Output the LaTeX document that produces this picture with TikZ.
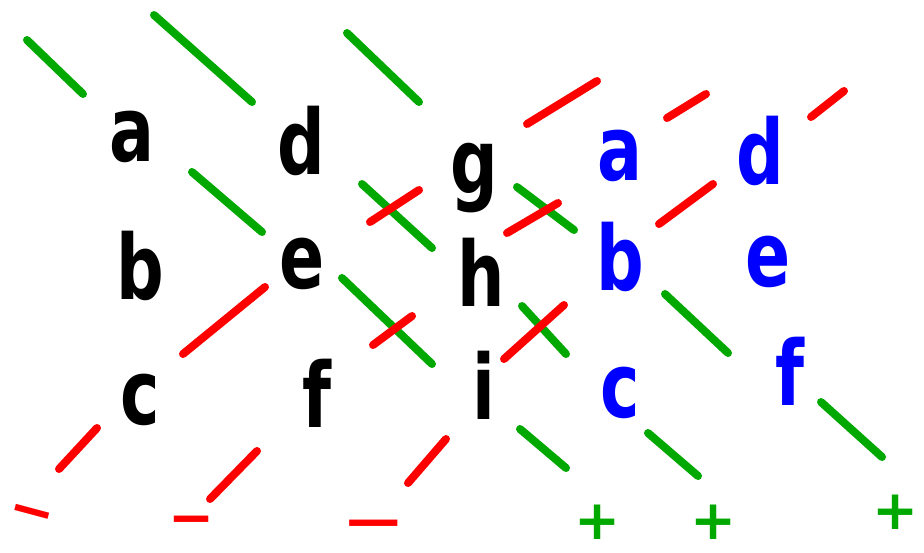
\documentclass[tikz,border=0pt]{standalone}
\usepackage{fontspec}
\setmainfont{DejaVu Sans}
\usepackage{graphicx}
\definecolor{pgreen}{RGB}{0,168,0}
\definecolor{pred}{RGB}{255,0,0}
\definecolor{pblue}{RGB}{0,0,255}
\newcommand{\hl}[1]{\scalebox{0.74}[1]{#1}}
\begin{document}
\begin{tikzpicture}[x=1pt,y=1pt,
  stroke/.style={line width=8pt,line cap=round,line join=round},
  gs/.style={stroke,draw=pgreen},
  rs/.style={stroke,draw=pred},
  letter/.style={inner sep=0pt,font=\fontsize{90}{90}\selectfont\bfseries},
  blk/.style={letter,text=black},
  blu/.style={letter,text=pblue},
  sign/.style={inner sep=0pt,font=\fontsize{55}{55}\selectfont\bfseries},
  plus/.style={sign,text=pgreen},
  minus/.style={sign,text=pred}]
\useasboundingbox (0,0) rectangle (924,-552);
\fill[white] (0,0) rectangle (924,-552);
% green strokes
\draw[gs] (27,-40) -- (83,-94);
\draw[gs] (154,-15) -- (252,-102);
\draw[gs] (347,-33) -- (419,-102);
\draw[gs] (192,-172) -- (262,-232);
\draw[gs] (362,-184) -- (432,-248);
\draw[gs] (342,-278) -- (432,-364);
\draw[gs] (517,-187) -- (574,-230);
\draw[gs] (522,-306) -- (566,-354);
\draw[gs] (665,-294) -- (728,-353);
\draw[gs] (520,-429) -- (566,-468);
\draw[gs] (648,-433) -- (698,-476);
\draw[gs] (821,-402) -- (882,-457);
% red strokes
\draw[rs] (370,-222) -- (419,-190);
\draw[rs] (527,-124) -- (597,-81);
\draw[rs] (667,-118) -- (706,-94);
\draw[rs] (811,-117) -- (844,-91);
\draw[rs] (507,-233) -- (558,-203);
\draw[rs] (659,-224) -- (713,-184);
\draw[rs] (183,-354) -- (265,-287);
\draw[rs] (373,-345) -- (412,-316);
\draw[rs] (59,-469) -- (97,-428);
\draw[rs] (210,-499) -- (257,-451);
\draw[rs] (408,-483) -- (446,-439);
\draw[rs] (504,-359) -- (564,-305);
% black letters
\node[blk] (a1) at (132,-137) {\hl{a}};
\node[blk] (d1) at (301,-141) {\hl{d}};
\node[blk] (g1) at (474,-178) {\hl{g}};
\node[blk] (b1) at (140,-266) {\hl{b}};
\node[blk] (e1) at (302,-264) {\hl{e}};
\node[blk] (h1) at (481,-272) {\hl{h}};
\node[blk] (c1) at (140,-400) {\hl{c}};
\node[blk] (f1) at (317,-393) {\hl{f}};
\node[blk] (i1) at (484,-385) {\hl{i}};
% blue letters
\node[blu] (a2) at (620,-156) {\hl{a}};
\node[blu] (d2) at (760,-151) {\hl{d}};
\node[blu] (b2) at (620,-257) {\hl{b}};
\node[blu] (e2) at (768,-262) {\hl{e}};
\node[blu] (c2) at (620,-393) {\hl{c}};
\node[blu] (f2) at (790,-371) {\hl{f}};
% signs
\node[plus] (p1) at (598,-522) {+};
\node[plus] (p2) at (714,-522) {+};
\node[plus] (p3) at (896,-512) {+};
\node[minus,rotate=-15] (m1) at (30,-519) {−};
\node[minus] (m2) at (192,-526) {−};
\node[minus] (m3) at (374,-530) {\scalebox{1.4}[1]{−}};
\end{tikzpicture}
\end{document}
